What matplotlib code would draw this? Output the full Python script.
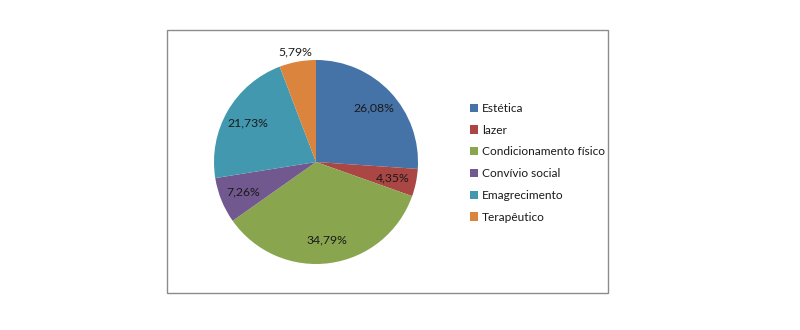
import matplotlib.pyplot as plt
import numpy as np
from matplotlib.patches import Rectangle, Patch

categories = ['Estética', 'lazer', 'Condicionamento físico', 'Convívio social',
              'Emagrecimento', 'Terapêutico']
values = [26.08, 4.35, 34.79, 7.26, 21.73, 5.79]
colors = ['#4572A7', '#AA4643', '#89A54E', '#71588F', '#4198AF', '#DB843D']

plt.rcParams['font.family'] = ['Lato', 'DejaVu Sans']

fig = plt.figure(figsize=(8, 3.3), dpi=100)

# chart area frame
fig.patches.append(Rectangle((167 / 800, 1 - 293 / 330), 441 / 800, 263 / 330,
                             transform=fig.transFigure, fill=False,
                             edgecolor='#8c8c8c', linewidth=1.0))

# pie centred at (316, 162) px, radius 102 px
side = 260
lim = side / 2 / 102
ax = fig.add_axes([(316 - side / 2) / 800, (330 - 162 - side / 2) / 330,
                   side / 800, side / 330])
wedges, texts, autotexts = ax.pie(
    values, colors=colors, startangle=90, counterclock=False,
    autopct=lambda p: '{:.2f}%'.format(p).replace('.', ','),
    pctdistance=0.77, textprops={'fontsize': 8.8, 'color': '#1a1a1a'},
    wedgeprops={'linewidth': 0})
ax.set_xlim(-lim, lim)
ax.set_ylim(-lim, lim)
ax.set_aspect('equal')
ax.axis('off')

# small slice label sits outside the pie
w = wedges[-1]
ang = np.deg2rad((w.theta1 + w.theta2) / 2)
autotexts[-1].set_position((1.1 * np.cos(ang), 1.1 * np.sin(ang)))

handles = [Patch(facecolor=c, edgecolor='none') for c in colors]
leg = fig.legend(handles, categories, loc='upper left',
                 bbox_to_anchor=(464 / 800, 1 - 97 / 330), frameon=False,
                 fontsize=8.6, handlelength=0.7, handleheight=0.7,
                 handletextpad=0.3, labelspacing=0.9, borderpad=0)
for t in leg.get_texts():
    t.set_color('#1a1a1a')

fig.savefig('out.png', dpi=100)
